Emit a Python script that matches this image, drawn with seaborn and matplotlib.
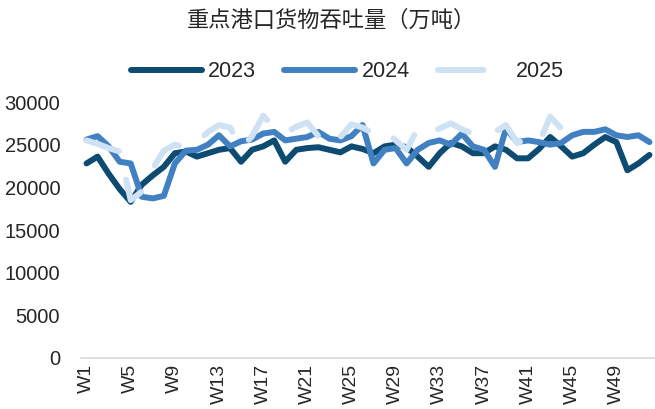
import pandas as pd
import numpy as np
import matplotlib
matplotlib.use("Agg")
import matplotlib.pyplot as plt
import seaborn as sns
from matplotlib.ticker import FixedLocator
from matplotlib.lines import Line2D

# 周次
weeks = [f"W{i}" for i in range(1, 53)]

y2023 = [22800, 23600, 21600, 19800, 18300, 20300, 21400, 22400, 24000, 24200,
         23600, 24000, 24400, 24600, 23000, 24400, 24800, 25500, 23000, 24400,
         24600, 24700, 24400, 24100, 24800, 24500, 24000, 24800, 25000, 24700,
         23600, 22400, 24000, 25200, 24800, 24000, 24000, 24800, 24400, 23400,
         23400, 24500, 25900, 24800, 23600, 24000, 25000, 25900, 25300, 22000,
         22800, 23800]

y2024 = [25600, 26000, 24800, 23000, 22800, 18900, 18700, 19000, 22800, 24300,
         24400, 25000, 26100, 24800, 25400, 25600, 26300, 26500, 25500, 25700,
         25900, 26500, 25700, 25500, 26000, 27300, 22800, 24400, 24600, 22800,
         24400, 25200, 25500, 25000, 26300, 24800, 24400, 22400, 26900, 25300,
         25500, 25300, 25000, 25200, 26100, 26500, 26500, 26800, 26100, 25900,
         26100, 25300]

y2025 = [25500, 25100, 24600, 24200, 18500, 19500, 22200, 24300, 25000, 24700,
         25200, 26500, 27300, 27000, 24600, 26000, 28400, 27000, 26400, 27100,
         27600, 26000, 24900, 25900, 27400, 27000, 26300, 26700, 25500, 24400,
         26900, 26300, 26900, 27500, 26800, 26300, 26300, 26500, 27300, 25200,
         25700, 25200, 28300, 26900]

yticks = [0, 5000, 10000, 15000, 20000, 25000, 30000]

c23, c24, c25 = "#0E4B72", "#4281C1", "#CFE2F3"

sns.set_style("white")
plt.rcParams["font.family"] = ["Liberation Sans", "Noto Sans CJK SC", "DejaVu Sans"]

fig = plt.figure(figsize=(6.55, 4.09), dpi=100)
ax = fig.add_axes([0.1237, 0.1247, 0.8763, 0.6259])

x_all = np.arange(1, 53)

sns.lineplot(x=x_all, y=y2023, ax=ax, color=c23, lw=4.3,
             estimator=None, sort=False, solid_capstyle="round", solid_joinstyle="round")
sns.lineplot(x=x_all, y=y2024, ax=ax, color=c24, lw=4.3,
             estimator=None, sort=False, solid_capstyle="round", solid_joinstyle="round")
sns.lineplot(x=x_all[:len(y2025)], y=y2025, ax=ax, color=c25, lw=4.3,
             estimator=None, sort=False, linestyle=(0, (5.7, 5.0)),
             dash_capstyle="round", dash_joinstyle="round")

ax.set_xlim(0.5, 52.5)
ax.set_ylim(0, 30000)
ax.set_yticks(yticks)
ax.set_yticklabels([str(v) for v in yticks], fontsize=14.5)
ax.set_xticks(x_all[::4])
ax.set_xticklabels(weeks[::4], rotation=90, fontsize=14)
ax.xaxis.set_minor_locator(FixedLocator(np.arange(0.5, 53, 1)))
ax.tick_params(axis="x", which="major", length=0, pad=4)
ax.tick_params(axis="x", which="minor", length=4, direction="in", color="#D9D9D9", width=1)
ax.tick_params(axis="y", length=0, pad=15)
ax.set_xlabel("")
ax.set_ylabel("")

for s in ["top", "right", "left"]:
    ax.spines[s].set_visible(False)
ax.spines["bottom"].set_color("#D9D9D9")
ax.spines["bottom"].set_linewidth(1.2)

# legend handles (2025 shows one long dash like the original)
handles = [
    Line2D([], [], color=c23, lw=4.3, solid_capstyle="round"),
    Line2D([], [], color=c24, lw=4.3, solid_capstyle="round"),
    Line2D([], [], color=c25, lw=4.3, linestyle=(0, (7.6, 12)), dash_capstyle="round"),
]
fig.legend(handles, ["2023", "2024", "2025"], ncol=3, loc="center",
           bbox_to_anchor=(0.53, 0.824), frameon=False, fontsize=15.5,
           handlelength=3.3, handletextpad=0.3, columnspacing=1.3)

fig.text(0.506, 0.95, "重点港口货物吞吐量（万吨）", ha="center", va="center",
         fontsize=16, family=["Noto Sans CJK SC", "DejaVu Sans"])

fig.savefig("out.png", dpi=100)
